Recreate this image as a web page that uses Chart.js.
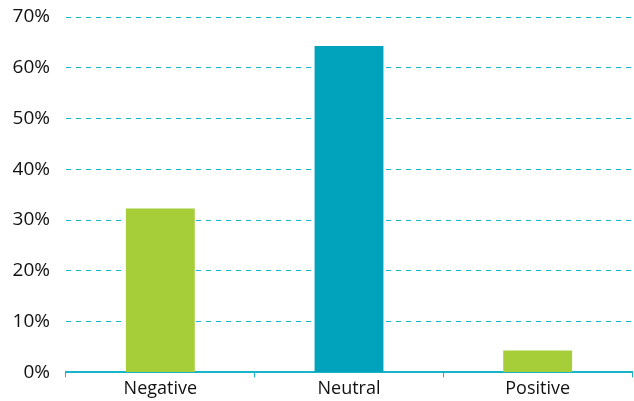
<!DOCTYPE html>
<html>
<head>
<meta charset="utf-8">
<script src="https://cdn.jsdelivr.net/npm/chart.js@4/dist/chart.umd.min.js"></script>
<style>
html,body{margin:0;padding:0;background:#fff;}
#wrap{width:634px;height:401px;position:relative;}
</style>
</head>
<body>
<div id="wrap"><canvas id="c" width="634" height="401"></canvas></div>
<script>
const categories = ["Negative", "Neutral", "Positive"];
const shares = [32.3, 64.3, 4.3];
const barColors = ["#a6ce39", "#00a3bb", "#a6ce39"];
const yTicks = [0, 10, 20, 30, 40, 50, 60, 70];

const teal = "#1ab4c9";
new Chart(document.getElementById("c"), {
  type: "bar",
  data: {
    labels: categories,
    datasets: [{
      data: shares,
      backgroundColor: barColors,
      borderWidth: 0,
      barPercentage: 0.365,
      categoryPercentage: 1.0
    }]
  },
  options: {
    responsive: false,
    animation: false,
    layout: { padding: { left: 0, right: 2, top: 17, bottom: 0 } },
    plugins: { legend: { display: false }, tooltip: { enabled: false } },
    scales: {
      x: {
        offset: true,
        grid: { display: true, drawOnChartArea: false, drawTicks: true, tickLength: 5, color: teal, lineWidth: 1, offset: true },
        border: { display: true, color: teal, width: 2 },
        ticks: { color: "#111", font: { family: "Open Sans", size: 18 }, padding: 1 }
      },
      y: {
        min: 0, max: 70,
        afterBuildTicks: (axis) => { axis.ticks = yTicks.map(v => ({ value: v })); },
        afterFit: (axis) => { axis.width = 66; axis.paddingTop = 0; axis.paddingBottom = 0; },
        grid: { color: teal, lineWidth: 1, drawTicks: false },
        border: { display: false, dash: [5, 5] },
        ticks: { color: "#111", font: { family: "Open Sans", size: 19 }, padding: 16, callback: v => v + "%" }
      }
    }
  }
});
</script>
</body>
</html>
